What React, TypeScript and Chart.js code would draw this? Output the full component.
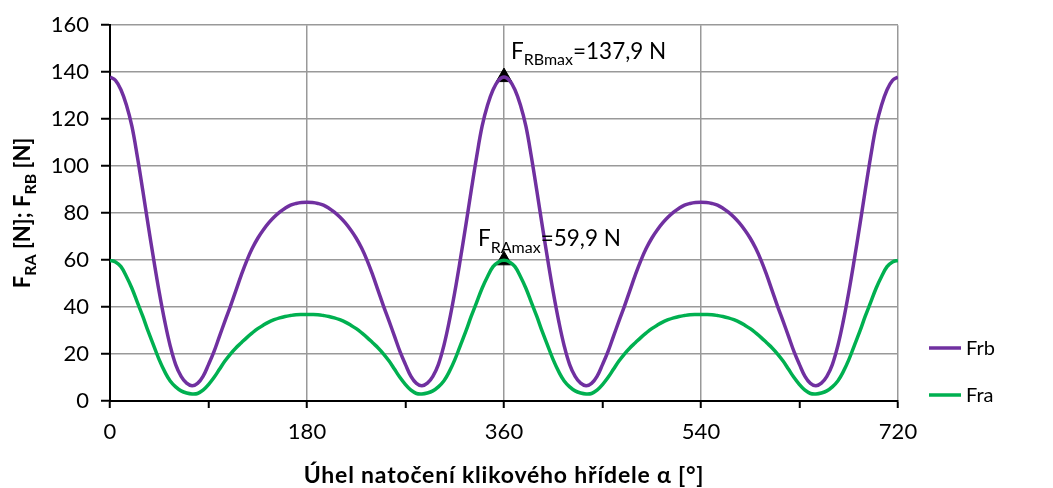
import { useEffect, useRef } from "react";
import { Chart, registerables } from "chart.js";
Chart.register(...registerables);

const angles = [
  0, 5, 10, 15, 20, 25, 30, 35, 40, 45, 50, 55, 60, 65, 70, 75, 80, 85, 90, 95, 100, 105, 110, 115, 120, 125, 130, 135, 140, 145, 150, 155, 160, 165, 170, 175,
  180, 185, 190, 195, 200, 205, 210, 215, 220, 225, 230, 235, 240, 245, 250, 255, 260, 265, 270, 275, 280, 285, 290, 295, 300, 305, 310, 315, 320, 325, 330, 335, 340, 345, 350, 355,
  360, 365, 370, 375, 380, 385, 390, 395, 400, 405, 410, 415, 420, 425, 430, 435, 440, 445, 450, 455, 460, 465, 470, 475, 480, 485, 490, 495, 500, 505, 510, 515, 520, 525, 530, 535,
  540, 545, 550, 555, 560, 565, 570, 575, 580, 585, 590, 595, 600, 605, 610, 615, 620, 625, 630, 635, 640, 645, 650, 655, 660, 665, 670, 675, 680, 685, 690, 695, 700, 705, 710, 715,
  720,
];

const frb = [
  137.9, 136.5, 132.5, 126, 117, 104, 89.5, 74.5, 60, 46.3, 34, 23.5, 15.5, 10.5, 7.6, 6.5, 7.5, 10.5, 15.5, 21, 27.5, 34, 40.3, 47, 53.7, 59.8, 65, 69.3, 72.8, 75.8, 78.3, 80.4, 82.1, 83.4, 84.1, 84.5,
  84.6, 84.5, 84.1, 83.4, 82.1, 80.4, 78.3, 75.8, 72.8, 69.3, 65, 59.8, 53.7, 47, 40.3, 34, 27.5, 21, 15.5, 10.5, 7.5, 6.5, 7.6, 10.5, 15.5, 23.5, 34, 46.3, 60, 74.5, 89.5, 104, 117, 126, 132.5, 136.5,
  137.9, 136.5, 132.5, 126, 117, 104, 89.5, 74.5, 60, 46.3, 34, 23.5, 15.5, 10.5, 7.6, 6.5, 7.5, 10.5, 15.5, 21, 27.5, 34, 40.3, 47, 53.7, 59.8, 65, 69.3, 72.8, 75.8, 78.3, 80.4, 82.1, 83.4, 84.1, 84.5,
  84.6, 84.5, 84.1, 83.4, 82.1, 80.4, 78.3, 75.8, 72.8, 69.3, 65, 59.8, 53.7, 47, 40.3, 34, 27.5, 21, 15.5, 10.5, 7.5, 6.5, 7.6, 10.5, 15.5, 23.5, 34, 46.3, 60, 74.5, 89.5, 104, 117, 126, 132.5, 136.5,
  137.9,
];

const fra = [
  59.9, 59.2, 57.2, 53, 48, 42, 36, 29.5, 23.5, 17.5, 12.5, 8.5, 6, 4.3, 3.4, 3, 3.2, 4.6, 7, 10, 13.5, 17, 20, 22.6, 24.8, 27, 29, 30.8, 32.3, 33.6, 34.6, 35.4, 36, 36.4, 36.7, 36.8,
  36.8, 36.8, 36.7, 36.4, 36, 35.4, 34.6, 33.6, 32.3, 30.8, 29, 27, 24.8, 22.6, 20, 17, 13.5, 10, 7, 4.6, 3.2, 3, 3.4, 4.3, 6, 8.5, 12.5, 17.5, 23.5, 29.5, 36, 42, 48, 53, 57.2, 59.2,
  59.9, 59.2, 57.2, 53, 48, 42, 36, 29.5, 23.5, 17.5, 12.5, 8.5, 6, 4.3, 3.4, 3, 3.2, 4.6, 7, 10, 13.5, 17, 20, 22.6, 24.8, 27, 29, 30.8, 32.3, 33.6, 34.6, 35.4, 36, 36.4, 36.7, 36.8,
  36.8, 36.8, 36.7, 36.4, 36, 35.4, 34.6, 33.6, 32.3, 30.8, 29, 27, 24.8, 22.6, 20, 17, 13.5, 10, 7, 4.6, 3.2, 3, 3.4, 4.3, 6, 8.5, 12.5, 17.5, 23.5, 29.5, 36, 42, 48, 53, 57.2, 59.2,
  59.9,
];

const markerAngles = [360, 360];
const markerValues = [137.9, 59.9];
const markerLabelMain = ["F", "F"];
const markerLabelSub = ["RBmax", "RAmax"];
const markerLabelRest = ["=137,9 N", "=59,9 N"];

const seriesNames = ["Frb", "Fra"];
const seriesColors = ["#7030A0", "#00B050"];

const xTitle = "Úhel natočení klikového hřídele α [°]";
const yTitleParts: [string, boolean][] = [
  ["F", false],
  ["RA", true],
  [" [N]; F", false],
  ["RB", true],
  [" [N]", false],
];

const FONT = "Lato, 'Open Sans', sans-serif";

function drawParts(
  ctx: CanvasRenderingContext2D,
  parts: [string, boolean][],
  x: number,
  y: number,
  size: number,
  subSize: number,
  weight: string,
  measureOnly = false
) {
  let cx = x;
  for (const [t, sub] of parts) {
    ctx.font = `${weight} ${sub ? subSize : size}px ${FONT}`;
    if (!measureOnly) ctx.fillText(t, cx, sub ? y + size * 0.28 : y);
    cx += ctx.measureText(t).width;
  }
  return cx - x;
}

const extras = {
  id: "extras",
  afterDraw(chart: any) {
    const ctx: CanvasRenderingContext2D = chart.ctx;
    const xs = chart.scales.x;
    const ys = chart.scales.y;
    ctx.save();
    ctx.fillStyle = "#000";
    ctx.textBaseline = "alphabetic";
    ctx.textAlign = "left";

    // y title
    ctx.save();
    ctx.translate(30, 213);
    ctx.rotate(-Math.PI / 2);
    const w = drawParts(ctx, yTitleParts, 0, 0, 22, 16, "bold", true);
    drawParts(ctx, yTitleParts, -w / 2, 0, 22, 16, "bold");
    ctx.restore();

    // x title
    ctx.save();
    ctx.font = `bold 23px ${FONT}`;
    (ctx as any).letterSpacing = "0.8px";
    ctx.textAlign = "center";
    ctx.fillText(xTitle, (chart.chartArea.left + chart.chartArea.right) / 2, 483);
    ctx.restore();

    // marker labels
    const offs = [
      [7, -18],
      [-26, -14],
    ];
    for (let i = 0; i < markerAngles.length; i++) {
      const px = xs.getPixelForValue(markerAngles[i]);
      const py = ys.getPixelForValue(markerValues[i]);
      drawParts(
        ctx,
        [
          [markerLabelMain[i], false],
          [markerLabelSub[i], true],
          [markerLabelRest[i], false],
        ],
        px + offs[i][0],
        py + offs[i][1],
        22.5,
        16,
        "normal"
      );
    }

    // legend
    const legY = [348, 395];
    for (let i = 0; i < seriesNames.length; i++) {
      ctx.strokeStyle = seriesColors[i];
      ctx.lineWidth = 3.5;
      ctx.beginPath();
      ctx.moveTo(929, legY[i]);
      ctx.lineTo(961, legY[i]);
      ctx.stroke();
      ctx.font = `normal 20px ${FONT}`;
      ctx.textBaseline = "middle";
      ctx.fillText(seriesNames[i], 966, legY[i] + 1);
    }
    ctx.restore();
  },
};

export default function App() {
  const ref = useRef<HTMLCanvasElement | null>(null);
  useEffect(() => {
    if (!ref.current) return;
    const chart = new Chart(ref.current, {
      type: "line",
      data: {
        datasets: [
          {
            label: seriesNames[0],
            data: angles.map((a, i) => ({ x: a, y: frb[i] })),
            borderColor: seriesColors[0],
            borderWidth: 3.5,
            pointRadius: 0,
            tension: 0.4,
            fill: false,
          },
          {
            label: seriesNames[1],
            data: angles.map((a, i) => ({ x: a, y: fra[i] })),
            borderColor: seriesColors[1],
            borderWidth: 3.5,
            pointRadius: 0,
            tension: 0.4,
            fill: false,
          },
          {
            label: "max",
            data: markerAngles.map((a, i) => ({ x: a, y: markerValues[i] })),
            showLine: false,
            pointStyle: "triangle",
            pointRadius: 9,
            backgroundColor: "#000",
            borderColor: "#000",
            borderWidth: 1,
          },
        ],
      },
      options: {
        animation: false,
        responsive: true,
        maintainAspectRatio: false,
        layout: { padding: { left: 0, top: 24, right: 155, bottom: 0 } },
        plugins: { legend: { display: false }, tooltip: { enabled: false } },
        scales: {
          x: {
            type: "linear",
            min: 0,
            max: 720,
            afterFit: (s: any) => {
              s.height = 87;
            },
            ticks: {
              stepSize: 90,
              autoSkip: false,
              maxRotation: 0,
              padding: 11,
              color: "#000",
              font: { family: FONT, size: 22 },
              callback: (v: any) => (Number(v) % 180 === 0 ? String(v) : ""),
            },
            grid: {
              color: (c: any) => (c.tick && c.tick.value % 180 === 0 ? "#999999" : "rgba(0,0,0,0)"),
              lineWidth: 1.5,
              tickColor: "#000",
              tickLength: 7,
              tickWidth: 2,
            },
            border: { display: true, color: "#000", width: 2 },
          },
          y: {
            min: 0,
            max: 160,
            afterFit: (s: any) => {
              s.width = 110;
            },
            ticks: {
              stepSize: 20,
              padding: 12,
              color: "#000",
              font: { family: FONT, size: 22 },
            },
            grid: {
              color: "#999999",
              lineWidth: 1.5,
              tickColor: "#000",
              tickLength: 9,
              tickWidth: 2,
            },
            border: { display: true, color: "#000", width: 2 },
          },
        },
      },
      plugins: [extras],
    } as any);
    return () => chart.destroy();
  }, []);
  return (
    <div style={{ position: "fixed", left: 0, top: 0, width: 1053, height: 488, background: "#fff" }}>
      <canvas ref={ref} />
    </div>
  );
}
